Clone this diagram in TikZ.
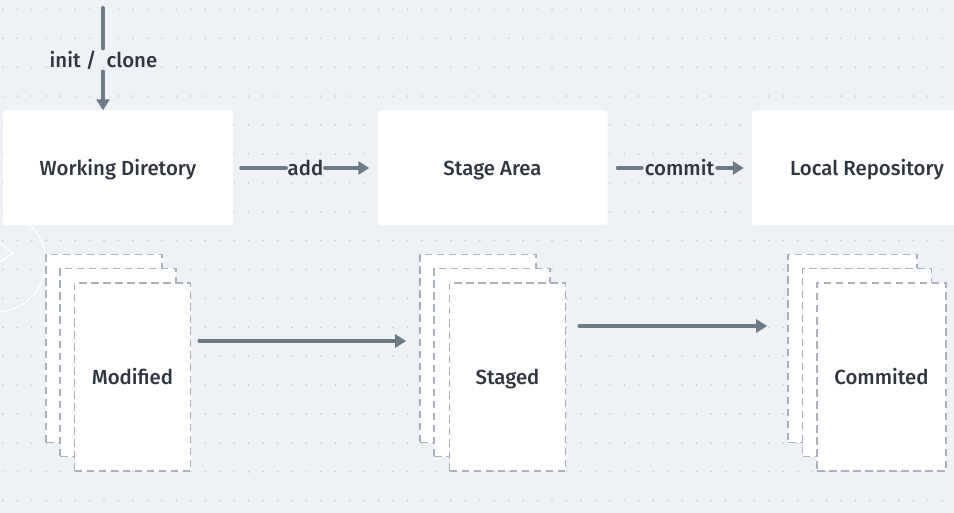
\documentclass[tikz,border=0pt]{standalone}
\usepackage{fontspec}
\setmainfont{Fira Sans}[UprightFont=* Medium]
\usetikzlibrary{arrows.meta,calc}

\definecolor{canvas}{HTML}{EEF1F5}
\definecolor{griddot}{HTML}{C3CAD2}
\definecolor{ink}{HTML}{2F3640}
\definecolor{flowgray}{HTML}{6E7A86}
\definecolor{sheetedge}{HTML}{A9B2BC}

\tikzset{
  txt/.style={text=ink, font=\fontsize{20.4pt}{23pt}\selectfont},
  area/.style={txt, fill=white, draw=none, rounded corners=3pt,
    minimum width=230pt, minimum height=115pt, inner sep=0pt,
    text height=14.5pt, text depth=0pt},
  sheet/.style={txt, fill=white, draw=sheetedge, line width=1.7pt,
    dash pattern=on 7.5pt off 4.5pt, minimum width=116pt, minimum height=188pt,
    inner sep=0pt, text height=14.5pt, text depth=0pt},
  lbl/.style={txt, inner sep=2pt},
  flow/.style={draw=flowgray, line width=4pt, line cap=round,
    -{Triangle[length=11pt,width=13pt]}},
  plain/.style={draw=flowgray, line width=4pt, line cap=round},
}

\begin{document}
\begin{tikzpicture}[x=1pt,y=-1pt]
  % canvas and dotted grid
  \useasboundingbox (0,0) rectangle (954,513);
  \clip (0,0) rectangle (954,513);
  \fill[canvas] (0,0) rectangle (954,513);
  \foreach \r in {0,...,17}{
    \foreach \c in {0,...,65}{
      \fill[griddot] (2.9+14.45*\c, 9.4+28.9*\r) circle (0.9pt);
    }
  }

  % faint circular control at the left edge
  \draw[white, line width=1.2pt] (-4,262) circle (50pt);
  \draw[white, line width=1.4pt] (0,243) -- (13,253) -- (0,262);

  % storage areas
  \node[area] (wd) at (118,168) {Working Diretory};
  \node[area] (sa) at (492.5,168) {Stage Area};
  \node[area] (lr) at (867,168) {Local Repository};

  % file stacks, drawn back to front
  \node[sheet] (mod1) at (104,348.5) {};
  \node[sheet] (mod2) at (118,362.5) {};
  \node[sheet] (mod3) at (132.5,377) {Modified};

  \node[sheet] (stg1) at (478,348.5) {};
  \node[sheet] (stg2) at (492,362.5) {};
  \node[sheet] (stg3) at (507.5,377) {Staged};

  \node[sheet, minimum width=129pt] (com1) at (852.5,348.5) {};
  \node[sheet, minimum width=129pt] (com2) at (867,362.5) {};
  \node[sheet, minimum width=129pt] (com3) at (881.5,377) {Commited};

  % init / clone entry
  \coordinate (entry) at (103,8);
  \node[lbl] (init) at (103.5,60) {init /\ \ clone};
  \draw[plain] (entry) -- (entry |- init.north);
  \draw[flow] (entry |- init.south) -- (wd.north -| entry);

  % add and commit transitions
  \node[lbl, inner sep=1.5pt] (add) at (305.5,168) {add};
  \draw[plain, shorten <=8pt] (wd.east) -- (add.west);
  \draw[flow, shorten >=8pt] (add.east) -- (sa.west);

  \node[lbl, inner sep=3pt] (commit) at (679.5,168) {commit};
  \draw[plain, shorten <=10pt] (sa.east) -- (commit.west);
  \draw[flow, shorten >=8pt] (commit.east) -- (lr.west);

  % file state transitions
  \draw[flow] ([xshift=8pt,yshift=36pt]mod3.east) -- ([xshift=-13pt,yshift=7.5pt]stg1.west);
  \draw[flow] ([xshift=13pt,yshift=51pt]stg3.east) -- ([xshift=-20pt,yshift=22.5pt]com1.west);
\end{tikzpicture}
\end{document}
